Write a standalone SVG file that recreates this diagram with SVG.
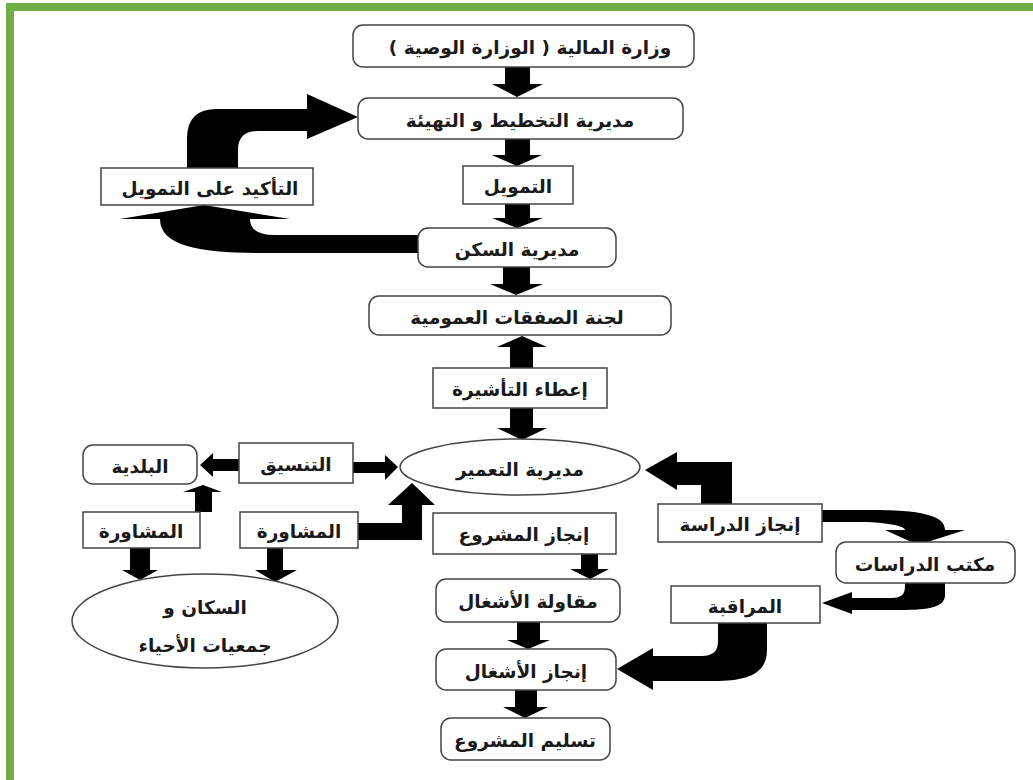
<svg xmlns="http://www.w3.org/2000/svg" width="1033" height="780" viewBox="0 0 1033 780">
<style>
.bx{fill:#fff;stroke:#444;stroke-width:1.5}
.t{font-family:'DejaVu Sans',sans-serif;font-size:18.5px;font-weight:bold;fill:#1a1a1a;text-anchor:middle;dominant-baseline:central}
.ar{fill:#000;stroke:none}
</style>
<rect x="0" y="0" width="1033" height="780" fill="#fff"/>
<rect x="10" y="7" width="1040" height="777" fill="none" stroke="#70AD47" stroke-width="8"/>

<g id="connectors">
<polygon class="ar" points="505,67 530,67 530,84 543,84 517,97 492,84 505,84"/>
<polygon class="ar" points="505,139 530,139 530,155 542,155 517,166 492,155 505,155"/>
<polygon class="ar" points="505,204 530,204 530,218 543,218 517,228 492,218 505,218"/>
<polygon class="ar" points="503,267 530,267 530,284 543,284 516,295 490,284 503,284"/>
<polygon class="ar" points="510,368 533,368 533,347 547,347 522,336 497,347 510,347"/>
<polygon class="ar" points="510,408 533,408 533,428 547,428 522,440 497,428 510,428"/>
<path class="ar" d="M187,168 L187,138 Q187,109 217,109 L307,109 L307,94 L358,117 L307,139 L307,131 L258,131 Q238,131 238,150 L238,168 Z"/>
<path class="ar" d="M418,235 L275,235 Q250,235 250,219 L290,219 L204,205 L120,219 L160,219 C160,246 200,253 260,253 L418,253 Z"/>
<polygon class="ar" points="239,459 213,459 213,453 200,465 213,477 213,471 239,471"/>
<polygon class="ar" points="353,462 385,462 385,455 398,467 385,480 385,473 353,473"/>
<polygon class="ar" points="195,512 195,492 183,492 203,485 222,492 212,492 212,512"/>
<polygon class="ar" points="130,548 150,548 150,570 158,570 140,580 122,570 130,570"/>
<polygon class="ar" points="267,548 283,548 283,570 297,570 275,582 255,570 267,570"/>
<path class="ar" d="M358,523 L402,523 L402,505 L388,505 L412,483 L435,505 L422,505 L422,540 L358,540 Z"/>
<path class="ar" d="M701,504 L701,485 L677,485 L677,490 L645,470 L677,452 L677,462 L732,462 L732,504 Z"/>
<path class="ar" d="M822,510 L870,510 C920,510 945,515 945,530 L965,530 L918,545 L885,530 L905,530 C905,525 880,522 860,522 L822,522 Z"/>
<path class="ar" d="M905,583 L945,583 L945,595 C945,607 930,610 900,610 L852,610 L852,614 L822,603 L852,592 L852,598 L890,598 C905,598 905,592 905,583 Z"/>
<path class="ar" d="M718,623 L767,623 L767,650 C767,675 745,681 715,681 L653,681 L653,690 L617,669 L653,648 L653,656 L700,656 C715,656 718,650 718,640 Z"/>
<polygon class="ar" points="581,554 598,554 598,569 609,569 590,579 570,569 581,569"/>
<polygon class="ar" points="517,622 540,622 540,640 550,640 528,649 507,640 517,640"/>
<polygon class="ar" points="515,690 537,690 537,707 548,707 525,718 503,707 515,707"/>
</g>

<g id="n1"><rect class="bx" x="353" y="25" width="341" height="42" rx="10"/><text class="t" x="530" y="47">وزارة المالية ( الوزارة الوصية )</text></g>
<g id="n2"><rect class="bx" x="358" y="98" width="325" height="41" rx="10"/><text class="t" x="520" y="120">مديرية التخطيط و التهيئة</text></g>
<g id="n3"><rect class="bx" x="463" y="166" width="110" height="38"/><text class="t" x="518" y="186">التمويل</text></g>
<g id="n4"><rect class="bx" x="101" y="168" width="212" height="37"/><text class="t" x="210" y="188">التأكيد على التمويل</text></g>
<g id="n5"><rect class="bx" x="418" y="228" width="198" height="39" rx="10"/><text class="t" x="517" y="249">مديرية السكن</text></g>
<g id="n6"><rect class="bx" x="369" y="296" width="302" height="39" rx="10"/><text class="t" x="517" y="317">لجنة الصفقات العمومية</text></g>
<g id="n7"><rect class="bx" x="433" y="368" width="174" height="40"/><text class="t" x="520" y="389">إعطاء التأشيرة</text></g>
<g id="n8"><ellipse class="bx" cx="520" cy="467" rx="120" ry="28"/><text class="t" x="520" y="469">مديرية التعمير</text></g>
<g id="n9"><rect class="bx" x="83" y="445" width="114" height="39" rx="10"/><text class="t" x="140" y="466">البلدية</text></g>
<g id="n10"><rect class="bx" x="239" y="443" width="114" height="40"/><text class="t" x="296" y="464">التنسيق</text></g>
<g id="n11"><rect class="bx" x="83" y="512" width="117" height="36"/><text class="t" x="141" y="531">المشاورة</text></g>
<g id="n12"><rect class="bx" x="240" y="512" width="118" height="36"/><text class="t" x="299" y="531">المشاورة</text></g>
<g id="n13"><ellipse class="bx" cx="205" cy="621" rx="133" ry="47"/><text class="t" x="205" y="607">السكان و</text><text class="t" x="205" y="645">جمعيات الأحياء</text></g>
<g id="n14"><rect class="bx" x="433" y="513" width="183" height="41"/><text class="t" x="524" y="534">إنجاز المشروع</text></g>
<g id="n15"><rect class="bx" x="436" y="579" width="184" height="43" rx="10"/><text class="t" x="528" y="601">مقاولة الأشغال</text></g>
<g id="n16"><rect class="bx" x="436" y="649" width="180" height="41" rx="10"/><text class="t" x="526" y="671">إنجاز الأشغال</text></g>
<g id="n17"><rect class="bx" x="441" y="718" width="169" height="42" rx="10"/><text class="t" x="525" y="740">تسليم المشروع</text></g>
<g id="n18"><rect class="bx" x="658" y="504" width="164" height="38"/><text class="t" x="740" y="524">إنجاز الدراسة</text></g>
<g id="n19"><rect class="bx" x="836" y="542" width="179" height="41" rx="10"/><text class="t" x="925" y="564">مكتب الدراسات</text></g>
<g id="n20"><rect class="bx" x="671" y="586" width="149" height="37"/><text class="t" x="745" y="606">المراقبة</text></g>
</svg>
